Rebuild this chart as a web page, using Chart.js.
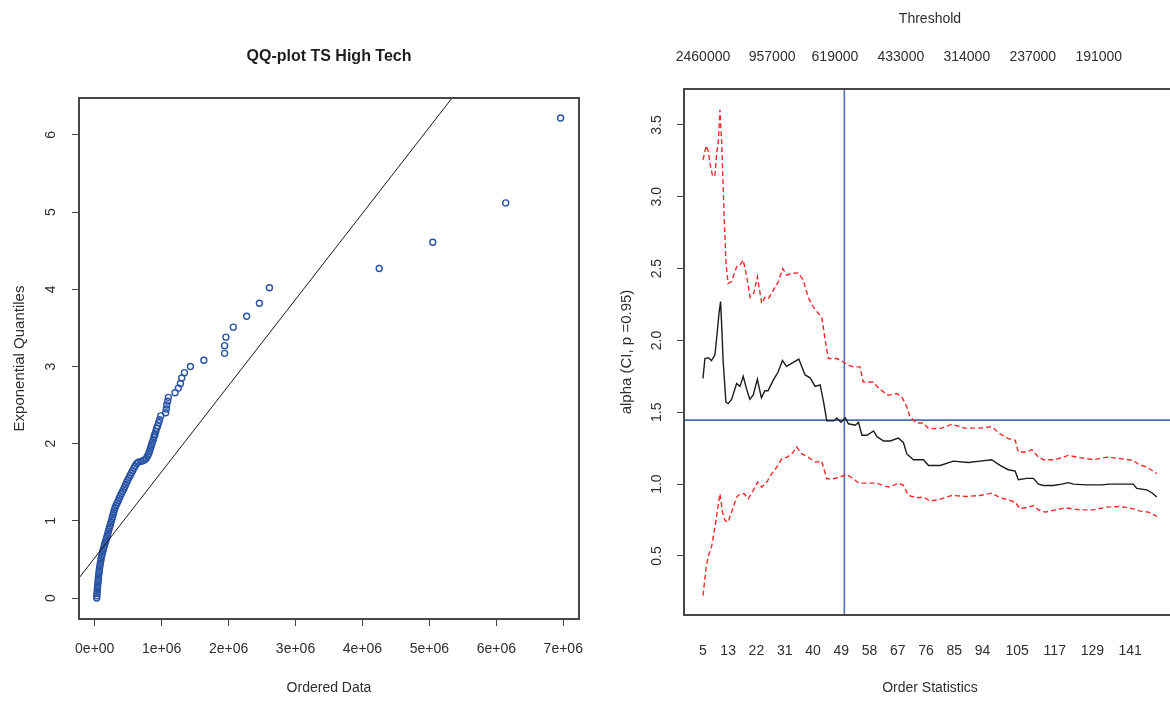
<!DOCTYPE html>
<html>
<head>
<meta charset="utf-8">
<script src="https://cdn.jsdelivr.net/npm/chart.js@4.4.1/dist/chart.umd.min.js"></script>
<style>
  html, body { margin: 0; padding: 0; background: #fff; overflow: hidden; }
  body { width: 1170px; height: 704px; position: relative; }
  canvas { position: absolute; top: 0; }
  #qq { left: 0; }
  #hill { left: 590px; }
</style>
</head>
<body>
<canvas id="qq" width="590" height="704"></canvas>
<canvas id="hill" width="590" height="704"></canvas>
<script>
// ordered data vs exponential quantiles (QQ panel)
const orderedData = [
  30000, 32000, 34000, 37000, 40000, 43000, 46000, 50000, 53000, 56000,
  60000, 64000, 68000, 73000, 78000, 84000, 90000, 96000, 103000, 111000,
  119000, 128000, 137000, 147000, 158000, 168000, 178000, 188000, 197000, 206000,
  216000, 226000, 236000, 246000, 256000, 265000, 274000, 283000, 293000, 305000,
  318000, 335000, 352000, 366000, 380000, 398000, 415000, 432000, 447000, 462000,
  478000, 494000, 512000, 530000, 548000, 566000, 585000, 602000, 625000, 650000,
  690000, 720000, 748000, 770000, 790000, 805000, 818000, 830000, 840000, 850000,
  862000, 875000, 884000, 892000, 900000, 912000, 925000, 940000, 955000, 968000,
  985000, 1060000, 1070000, 1075000, 1090000, 1100000, 1200000, 1250000, 1280000, 1300000,
  1340000, 1430000, 1630000, 1940000, 1940000, 1960000, 2070000, 2270000, 2460000, 2610000,
  4250000, 5050000, 6140000, 6960000
];
const expQuantiles = [
  0.00, 0.03, 0.06, 0.09, 0.12, 0.15, 0.18, 0.21, 0.24, 0.27,
  0.30, 0.33, 0.36, 0.39, 0.42, 0.45, 0.48, 0.51, 0.54, 0.57,
  0.60, 0.63, 0.66, 0.69, 0.72, 0.75, 0.78, 0.81, 0.84, 0.87,
  0.90, 0.93, 0.96, 0.99, 1.02, 1.05, 1.08, 1.11, 1.14, 1.17,
  1.20, 1.23, 1.26, 1.29, 1.32, 1.35, 1.38, 1.41, 1.44, 1.47,
  1.50, 1.53, 1.56, 1.59, 1.62, 1.65, 1.68, 1.71, 1.74, 1.76,
  1.77, 1.78, 1.79, 1.81, 1.84, 1.87, 1.90, 1.93, 1.96, 1.99,
  2.02, 2.05, 2.08, 2.11, 2.12, 2.16, 2.20, 2.23, 2.27, 2.31,
  2.36, 2.40, 2.45, 2.50, 2.55, 2.60, 2.66, 2.72, 2.78, 2.85,
  2.92, 3.00, 3.08, 3.17, 3.27, 3.38, 3.51, 3.65, 3.82, 4.02,
  4.27, 4.61, 5.12, 6.22
];
// least-squares line through the QQ points
const fitIntercept = 0.521;
const fitSlope = 1.116e-6;

const qqXTicks = [0, 1e6, 2e6, 3e6, 4e6, 5e6, 6e6, 7e6];
const qqXTickLabels = ['0e+00', '1e+06', '2e+06', '3e+06', '4e+06', '5e+06', '6e+06', '7e+06'];
const qqYTicks = [0, 1, 2, 3, 4, 5, 6];
const qqYTickLabels = ['0', '1', '2', '3', '4', '5', '6'];

// Hill estimate of alpha with 95% confidence band (Hill panel)
const hillK = [5, 5.6, 6.7, 7.7, 8.8, 9.5, 10.1, 10.6, 11.0, 11.4, 12.3, 13, 14.1, 15.7, 16.8, 17.8, 18.9, 19.9, 21, 22.3,
  23.6, 24.7, 25.7, 27.3, 28.9, 30.3, 31.6, 33.2, 35.5, 37.5, 39.1, 40.7, 42.3, 43.4, 44.4, 46.6, 47.6, 48.9, 50.3, 51.3,
  53.5, 54.5, 55.6, 57.2, 59.3, 60.4, 62.5, 64.6, 67.2, 68.8, 69.9, 72, 75.2, 76.8, 80.5, 84.7, 89.5, 93.2, 96.9, 99.6,
  102.2, 104.4, 105.4, 108.1, 110.2, 111.8, 113.4, 116.6, 119.2, 121.3, 122.9, 127.2, 132, 134.1, 136.2, 142, 143.1, 146.3, 147.9, 149.5];
const hillAlpha = [1.735, 1.874, 1.88, 1.86, 1.90, 2.05, 2.19, 2.27, 2.08, 1.86, 1.57, 1.56, 1.59, 1.70, 1.68, 1.75, 1.66, 1.59, 1.62, 1.73,
  1.60, 1.65, 1.65, 1.72, 1.78, 1.86, 1.82, 1.84, 1.87, 1.76, 1.74, 1.68, 1.69, 1.57, 1.44, 1.44, 1.46, 1.43, 1.46, 1.42,
  1.41, 1.43, 1.34, 1.34, 1.37, 1.33, 1.30, 1.30, 1.32, 1.29, 1.21, 1.17, 1.17, 1.13, 1.13, 1.16, 1.15, 1.16, 1.17, 1.13,
  1.10, 1.09, 1.03, 1.04, 1.04, 1.00, 0.99, 0.99, 1.00, 1.01, 1.00, 0.995, 0.995, 1.00, 1.00, 1.00, 0.97, 0.96, 0.94, 0.91];

const upperK = [5, 6, 6.7, 7.2, 8.1, 8.8, 9.4, 9.9, 10.4, 11, 11.7, 12.3, 13, 14.1, 15.7, 16.8, 17.8, 18.9, 20, 21.2,
  22.3, 23.7, 24.7, 25.8, 27.4, 29, 30.4, 31.7, 33.2, 35.4, 36.9, 38.5, 40.1, 41.7, 42.8, 43.9, 44.9, 47.6, 49.7, 51.3,
  52.9, 55, 56, 59.2, 61, 64, 66.7, 68.3, 69.9, 70.9, 73, 75.2, 76.8, 80.5, 84.2, 88.4, 93.2, 96.9, 99.6, 102.2,
  104.4, 105.4, 108.1, 109.7, 111.8, 113.4, 117.1, 121.3, 125.1, 129.3, 133.6, 137.8, 142, 143.7, 146.3, 149.5];
const upperAlpha = [3.257, 3.355, 3.315, 3.234, 3.14, 3.15, 3.31, 3.385, 3.606, 3.35, 2.886, 2.537, 2.397, 2.41, 2.513, 2.525, 2.56, 2.444, 2.30, 2.33,
  2.444, 2.258, 2.30, 2.29, 2.35, 2.41, 2.50, 2.455, 2.467, 2.47, 2.42, 2.30, 2.234, 2.188, 2.165, 2.002, 1.874, 1.874, 1.85, 1.828,
  1.816, 1.816, 1.711, 1.711, 1.665, 1.618, 1.63, 1.607, 1.537, 1.467, 1.425, 1.425, 1.386, 1.386, 1.416, 1.39, 1.39, 1.40, 1.35, 1.317,
  1.305, 1.223, 1.223, 1.24, 1.188, 1.17, 1.17, 1.20, 1.184, 1.17, 1.188, 1.177, 1.165, 1.137, 1.119, 1.073];

const lowerK = [5, 6, 6.7, 7.8, 8.8, 9.6, 10.4, 11.2, 12, 13, 14.1, 15.7, 16.8, 18.1, 19.4, 21, 22.4, 23.7, 25.3, 26.9,
  28.5, 30.1, 31.7, 33.2, 34.8, 36.4, 38.5, 40.7, 42.8, 44.4, 46.5, 48.6, 50.8, 52.9, 54.5, 57.1, 60.3, 63, 64.6, 67.2,
  68.8, 70.4, 73, 75.2, 77.3, 79.9, 84.2, 89, 93.2, 96.9, 99.6, 102.2, 104.4, 106, 108.6, 110.2, 111.8, 113.9, 116.6, 120.3,
  125.1, 129.3, 133.6, 137.8, 142, 144.2, 146.8, 149.5];
const lowerAlpha = [0.224, 0.42, 0.50, 0.573, 0.70, 0.817, 0.933, 0.805, 0.747, 0.735, 0.805, 0.91, 0.933, 0.933, 0.898, 0.956, 1.014, 0.979, 1.014, 1.073,
  1.119, 1.177, 1.188, 1.207, 1.258, 1.212, 1.188, 1.153, 1.16, 1.037, 1.037, 1.049, 1.067, 1.037, 1.007, 1.007, 1.007, 0.984, 0.98, 1.007,
  0.991, 0.921, 0.905, 0.91, 0.882, 0.891, 0.921, 0.914, 0.921, 0.937, 0.905, 0.891, 0.874, 0.828, 0.84, 0.851, 0.821, 0.805, 0.817, 0.835,
  0.821, 0.821, 0.84, 0.845, 0.828, 0.812, 0.805, 0.775];

const chosenK = 50;          // selected number of order statistics
const chosenAlpha = 1.445;   // alpha at the chosen threshold

const orderTicks = [5, 13, 22, 31, 40, 49, 58, 67, 76, 85, 94, 105, 117, 129, 141];
const thresholdTickK = [5, 27, 47, 68, 89, 110, 131];
const thresholdLabels = ['2460000', '957000', '619000', '433000', '314000', '237000', '191000'];
const alphaTicks = [0.5, 1.0, 1.5, 2.0, 2.5, 3.0, 3.5];
const alphaTickLabels = ['0.5', '1.0', '1.5', '2.0', '2.5', '3.0', '3.5'];

const FONT = '"Liberation Sans", Arial, sans-serif';
Chart.defaults.font.family = FONT;
Chart.defaults.color = '#2e2e2e';

const zip = (xs, ys) => xs.map((x, i) => ({ x, y: ys[i] }));

// plot box plus vertical tick labels on the y axis, base-graphics style
const boxAndYLabels = {
  id: 'boxAndYLabels',
  afterDraw(chart, args, opts) {
    const { ctx, chartArea: a } = chart;
    const y = chart.scales.y;
    ctx.save();
    ctx.strokeStyle = '#474747';
    ctx.lineWidth = 2;
    ctx.strokeRect(a.left, a.top, a.right - a.left, a.bottom - a.top);
    ctx.fillStyle = '#2e2e2e';
    ctx.font = '14px ' + FONT;
    ctx.textAlign = 'center';
    ctx.textBaseline = 'middle';
    y.ticks.forEach((t, i) => {
      ctx.save();
      ctx.translate(a.left - opts.offset, y.getPixelForValue(t.value));
      ctx.rotate(-Math.PI / 2);
      ctx.fillText(opts.labels[i], 0, 0);
      ctx.restore();
    });
    ctx.restore();
  }
};

const tickMarks = { drawOnChartArea: false, drawTicks: true, tickLength: 7, color: '#444', lineWidth: 1 };

// fixed axis sizes so the plot box sits where we want it
const fixHeight = h => s => { s.height = h; s.paddingLeft = 0; s.paddingRight = 0; };
const fixWidth = w => s => { s.width = w; s.paddingTop = 0; s.paddingBottom = 0; };

// --- QQ plot ---
const qqXMin = -0.235e6, qqXMax = 7.235e6;
new Chart(document.getElementById('qq'), {
  type: 'scatter',
  data: {
    datasets: [
      {
        type: 'line',
        data: [
          { x: qqXMin, y: fitIntercept + fitSlope * qqXMin },
          { x: qqXMax, y: fitIntercept + fitSlope * qqXMax }
        ],
        borderColor: '#1a1a1a',
        borderWidth: 1,
        pointRadius: 0
      },
      {
        data: zip(orderedData, expQuantiles),
        pointStyle: 'circle',
        pointRadius: 3,
        borderColor: '#2852a3',
        backgroundColor: 'rgba(0,0,0,0)',
        borderWidth: 1.4
      }
    ]
  },
  options: {
    responsive: false,
    animation: false,
    layout: { padding: { top: 0, right: 11, bottom: 0, left: 0 } },
    plugins: {
      legend: { display: false },
      tooltip: { enabled: false },
      title: {
        display: true,
        text: 'QQ-plot TS High Tech',
        fullSize: false,
        color: '#1e1e1e',
        font: { size: 16, weight: 'bold' },
        padding: { top: 47, bottom: 31.8 }
      },
      boxAndYLabels: { labels: qqYTickLabels, offset: 28 }
    },
    scales: {
      x: {
        type: 'linear',
        min: qqXMin,
        max: qqXMax,
        afterFit: fixHeight(85),
        afterBuildTicks: s => { s.ticks = qqXTicks.map(v => ({ value: v })); },
        grid: tickMarks,
        border: { display: false },
        ticks: { autoSkip: false, maxRotation: 0, padding: 15, font: { size: 14 }, callback: (v, i) => qqXTickLabels[i] },
        title: { display: true, text: 'Ordered Data', font: { size: 14 }, padding: { bottom: 7.6 } }
      },
      y: {
        min: -0.272,
        max: 6.479,
        afterFit: fixWidth(79),
        afterBuildTicks: s => { s.ticks = qqYTicks.map(v => ({ value: v })); },
        grid: tickMarks,
        border: { display: false },
        ticks: { display: false },
        title: { display: true, text: 'Exponential Quantiles', font: { size: 15 }, padding: { top: 11 } }
      }
    }
  },
  plugins: [boxAndYLabels]
});

// --- Hill plot ---
const kMin = -1.05, kMax = 155.6;
const aMin = 0.089, aMax = 3.75;
const dashed = [5, 3];
new Chart(document.getElementById('hill'), {
  type: 'line',
  data: {
    datasets: [
      { data: zip(hillK, hillAlpha), borderColor: '#1c1c1c', borderWidth: 1.4, pointRadius: 0 },
      { data: zip(upperK, upperAlpha), borderColor: '#f22a2a', borderWidth: 1.4, borderDash: dashed, pointRadius: 0 },
      { data: zip(lowerK, lowerAlpha), borderColor: '#f22a2a', borderWidth: 1.4, borderDash: dashed, pointRadius: 0 },
      { data: [{ x: chosenK, y: aMin }, { x: chosenK, y: aMax }], borderColor: '#4a6db3', borderWidth: 1.6, pointRadius: 0 },
      { data: [{ x: kMin, y: chosenAlpha }, { x: kMax, y: chosenAlpha }], borderColor: '#4a6db3', borderWidth: 1.6, pointRadius: 0 }
    ]
  },
  options: {
    responsive: false,
    animation: false,
    layout: { padding: { top: 0, right: 4, bottom: 0, left: 0 } },
    plugins: {
      legend: { display: false },
      tooltip: { enabled: false },
      boxAndYLabels: { labels: alphaTickLabels, offset: 27 }
    },
    scales: {
      x: {
        type: 'linear',
        position: 'bottom',
        min: kMin,
        max: kMax,
        afterFit: fixHeight(89),
        afterBuildTicks: s => { s.ticks = orderTicks.map(v => ({ value: v })); },
        grid: { display: false, drawTicks: false },
        border: { display: false },
        ticks: { autoSkip: false, maxRotation: 0, padding: 27.8, font: { size: 14 }, callback: v => String(v) },
        title: { display: true, text: 'Order Statistics', font: { size: 14 }, padding: { bottom: 7.6 } }
      },
      x2: {
        type: 'linear',
        position: 'top',
        min: kMin,
        max: kMax,
        afterFit: fixHeight(89),
        afterBuildTicks: s => { s.ticks = thresholdTickK.map(v => ({ value: v })); },
        grid: { display: false, drawTicks: false },
        border: { display: false },
        ticks: { autoSkip: false, maxRotation: 0, padding: 23.8, font: { size: 14 }, callback: (v, i) => thresholdLabels[i] },
        title: { display: true, text: 'Threshold', font: { size: 14 }, padding: { top: 10.6 } }
      },
      y: {
        min: aMin,
        max: aMax,
        afterFit: fixWidth(94),
        afterBuildTicks: s => { s.ticks = alphaTicks.map(v => ({ value: v })); },
        grid: tickMarks,
        border: { display: false },
        ticks: { display: false },
        title: { display: true, text: 'alpha (CI, p =0.95)', font: { size: 15 }, padding: { top: 28 } }
      }
    }
  },
  plugins: [boxAndYLabels]
});
</script>
</body>
</html>
